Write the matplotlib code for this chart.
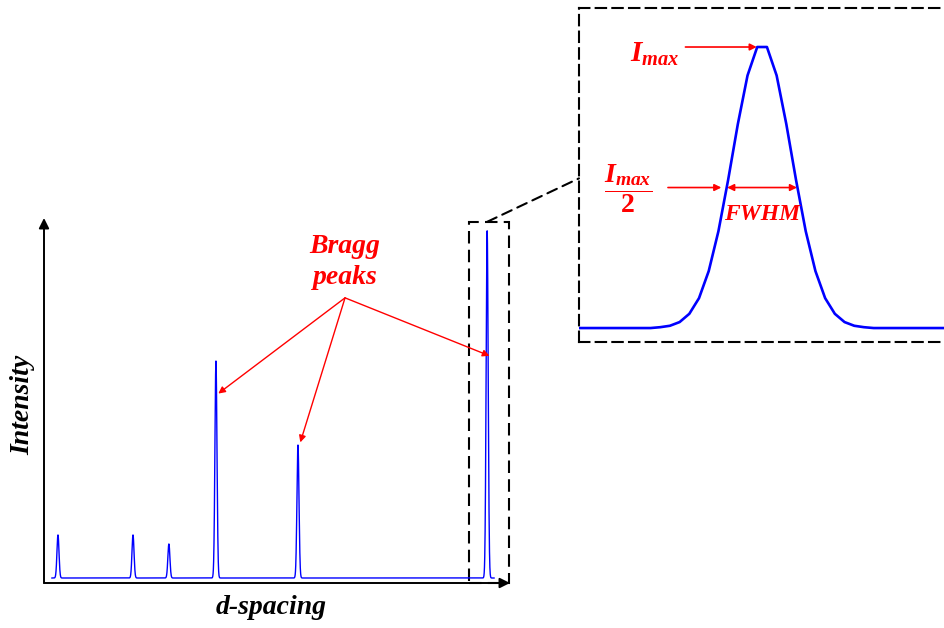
import numpy as np
import matplotlib
matplotlib.use("Agg")
import matplotlib.pyplot as plt
from matplotlib.patches import Rectangle, ConnectionPatch

# --- Fonts: bold italic serif everywhere, math too ---
plt.rcParams["font.family"] = "Liberation Serif"
plt.rcParams["mathtext.fontset"] = "custom"
plt.rcParams["mathtext.it"] = "Liberation Serif:italic:bold"
plt.rcParams["mathtext.rm"] = "Liberation Serif:bold"
plt.rcParams["mathtext.bf"] = "Liberation Serif:bold"

BLUE = "#0000ff"
RED = "#ff0000"

# --- Diffraction pattern: peak positions (d-spacing) and heights ---
peak_pos = [0.30, 1.91, 2.68, 3.69, 5.45, 9.51]
peak_height = [12.4, 12.4, 9.8, 62.5, 38.3, 100.0]
peak_sigma = 0.022
d_start, d_end = 0.17, 9.66

# Peaks pointed to by the "Bragg peaks" label
bragg_idx = [3, 4, 5]
bragg_arrow_frac = [0.85, 1.02, 0.64]

# --- Zoomed profile of the strongest peak (sampled points) ---
zoom_x = list(range(-1, 40))
zoom_y = [0, 0, 0, 0, 0, 0, 0, 0, 0, 0.003, 0.008, 0.021, 0.05, 0.105, 0.20,
          0.34, 0.52, 0.716, 0.887, 0.987, 0.987, 0.887, 0.716, 0.52, 0.34,
          0.20, 0.105, 0.05, 0.021, 0.008, 0.003, 0, 0, 0, 0, 0, 0, 0, 0, 0, 0]
half_left, half_right = 14.9, 22.1

W, H = 944, 628
fig = plt.figure(figsize=(W / 100, H / 100), dpi=100)


def px_box(x0, y0, x1, y1):
    # pixel box (top-left origin) -> figure fraction rect
    return [x0 / W, 1 - y1 / H, (x1 - x0) / W, (y1 - y0) / H]


# --- Main spectrum ---
ax = fig.add_axes(px_box(44, 218, 510, 583))
d = np.arange(d_start, d_end, 0.002)
inten = np.zeros_like(d)
for c, h in zip(peak_pos, peak_height):
    inten += h * np.exp(-0.5 * ((d - c) / peak_sigma) ** 2)
ax.plot(d, inten, color=BLUE, lw=1.0)
ax.set_xlim(0, 10)
ax.set_ylim(-1.44, 103.7)
for s in ax.spines.values():
    s.set_visible(False)
ax.set_xticks([])
ax.set_yticks([])

# axes drawn as arrows
ax.annotate("", xy=(1.0, 0), xytext=(0, 0), xycoords="axes fraction",
            arrowprops=dict(arrowstyle="-|>", color="black", lw=1.4,
                            mutation_scale=15, shrinkA=0, shrinkB=0))
ax.annotate("", xy=(0, 1.0), xytext=(0, 0), xycoords="axes fraction",
            arrowprops=dict(arrowstyle="-|>", color="black", lw=1.4,
                            mutation_scale=15, shrinkA=0, shrinkB=0))

fig.text(23 / W, 1 - 405 / H, "Intensity", rotation=90, ha="center",
         va="center", fontsize=20, fontweight="bold", fontstyle="italic")
fig.text(271 / W, 1 - 608 / H, "d-spacing", ha="center", va="center",
         fontsize=20, fontweight="bold", fontstyle="italic")

# Bragg peaks label with arrows
src = (6.46, 80.7)
ax.text(6.46, 91.0, "Bragg\npeaks", ha="center", va="center", color=RED,
        fontsize=20, fontweight="bold", fontstyle="italic", linespacing=1.3)
for i, f in zip(bragg_idx, bragg_arrow_frac):
    ax.annotate("", xy=(peak_pos[i] + 0.05, peak_height[i] * f), xytext=src,
                arrowprops=dict(arrowstyle="-|>", color=RED, lw=1.0,
                                mutation_scale=10, shrinkA=0, shrinkB=0))

# dashed box around the strongest peak
ax.add_patch(Rectangle((9.12, -1.44), 0.86, 104.0, fill=False, ec="black",
                       lw=1.5, ls=(0, (6, 3)), clip_on=False))

# --- Inset: zoom on the strongest peak ---
axi = fig.add_axes(px_box(579, 8, 960, 342))
axi.plot(zoom_x, zoom_y, color=BLUE, lw=1.9)
axi.set_xlim(-0.37, 38.9)
axi.set_ylim(-0.049, 1.124)
axi.set_xticks([])
axi.set_yticks([])
for s in axi.spines.values():
    s.set_linestyle((0, (5, 3)))
    s.set_linewidth(1.5)

peak = max(zoom_y)
axi.text(7.4, 0.96, r"$I_{max}$", ha="center", va="center", color=RED,
         fontsize=21)
axi.annotate("", xy=(17.95, peak), xytext=(10.6, peak),
             arrowprops=dict(arrowstyle="-|>", color=RED, lw=1.2,
                             mutation_scale=10, shrinkA=0, shrinkB=0))
axi.text(4.7, 0.49, r"$\dfrac{I_{max}}{2}$", ha="center", va="center",
         color=RED, fontsize=20)
axi.annotate("", xy=(half_left - 0.6, peak / 2), xytext=(8.8, peak / 2),
             arrowprops=dict(arrowstyle="-|>", color=RED, lw=1.2,
                             mutation_scale=10, shrinkA=0, shrinkB=0))
axi.annotate("", xy=(half_right, peak / 2), xytext=(half_left, peak / 2),
             arrowprops=dict(arrowstyle="<|-|>", color=RED, lw=1.2,
                             mutation_scale=10, shrinkA=0, shrinkB=0))
axi.text(18.5, 0.40, "FWHM", ha="center", va="center", color=RED,
         fontsize=17, fontweight="bold", fontstyle="italic")

# dashed connector from the small box to the inset
con = ConnectionPatch(xyA=(9.51, 102.6), coordsA=ax.transData,
                      xyB=(0, 0.49), coordsB=axi.transAxes,
                      color="black", lw=1.5, ls=(0, (5, 3)))
fig.add_artist(con)

fig.savefig("out.png", dpi=100)
